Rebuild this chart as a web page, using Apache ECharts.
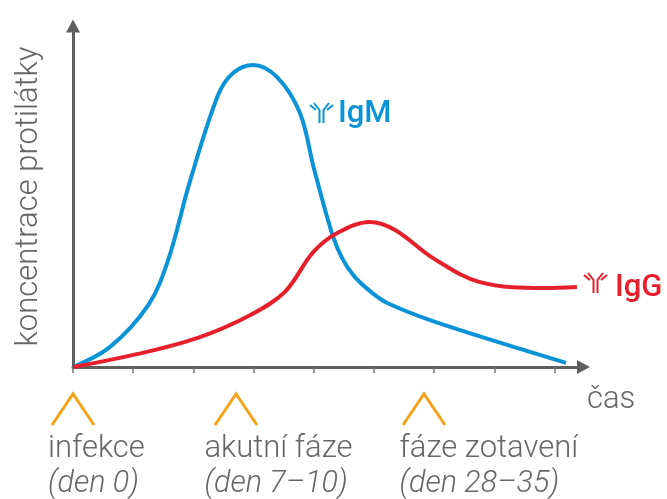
<!DOCTYPE html>
<html><head><meta charset="utf-8">
<style>html,body{margin:0;padding:0;background:#fff}#c{width:667px;height:499px}</style>
<script src="https://cdn.jsdelivr.net/npm/echarts@6/dist/echarts.min.js"></script></head>
<body><div id="c"></div>
<script>
// x in tick units x10 (one axis tick = 10), y in % of axis height
const igmTime = [0,6.1,12.5,15.8,19.4,24.1,26.6,29.9,33.9,37.7,40,43,44.7,46.8,49.7,52.2,59.3,74.3,81.9];
const igmConc = [0,5.7,17.8,30.7,53.2,78.2,84.5,86.8,83.3,73,57.2,38.5,31.3,25.9,21.3,18.4,13.5,5.2,1.2];
const iggTime = [0,10.6,20.6,29.4,35.2,39.9,43.9,49.3,53.5,59.8,67.6,78.4,83.7];
const iggConc = [0,3.7,8.3,14.9,21.6,33,38.5,41.7,39.4,31.3,24.4,22.7,23];
const xTicks = [0,10,20,30,40,50,60,70,80];
const yAxisTitle = 'koncentrace protilátky';
const xAxisTitle = 'čas';
const stages = ['infekce','akutní fáze','fáze zotavení'];
const stageDays = ['(den 0)','(den 7–10)','(den 28–35)'];

const BLUE='#0b93d8', RED='#e61f2d', GREY='#666666', AXIS='#5f5f5f', ORANGE='#f5a31a';
const FONT='Roboto';
const pairs=(a,b)=>a.map((v,i)=>[v,b[i]]);

function caret(tip){return {type:'polyline',shape:{points:[[tip-21,425],[tip,394],[tip+21,425]]},
  style:{stroke:ORANGE,lineWidth:3,fill:null}};}
function txt(x,y,t,c,extra){return {type:'text',x,y,style:Object.assign({text:t,fill:c,font:'300 31px '+FONT,textVerticalAlign:'middle'},extra||{})};}
function antibody(x,y,c){ // x,y = top-left of 25x21 icon
  const l=(pts)=>({type:'polyline',x,y,shape:{points:pts},style:{stroke:c,lineWidth:2,fill:null}});
  return [
    l([[10.5,21],[10.5,8],[5,1]]),
    l([[14.5,21],[14.5,8],[20,1]]),
    l([[1,3],[7,8]]),
    l([[24,3],[18,8]])
  ];
}
const ITALIC='italic 300 30.5px '+FONT;
const gfx=[
  caret(73),caret(236),caret(424),
  txt(48,449,stages[0],GREY),txt(204.5,449,stages[1],GREY),txt(399.5,449,stages[2],GREY),
  txt(48,484,stageDays[0],GREY,{font:ITALIC}),
  txt(204.5,484,stageDays[1],GREY,{font:ITALIC}),
  txt(399.5,484,stageDays[2],GREY,{font:ITALIC}),
  txt(587,400,xAxisTitle,GREY),
  txt(338,114,'IgM',BLUE,{font:'500 31px '+FONT}),
  txt(615,288,'IgG',RED,{font:'500 31px '+FONT}),
  ...antibody(309,102,BLUE),...antibody(583,272,RED)
];
const chart=echarts.init(document.getElementById('c'),null,{renderer:'canvas'});
chart.setOption({
  animation:false,
  grid:{left:73,top:26,width:510.5,height:341,containLabel:false,outerBoundsMode:'none'},
  xAxis:{type:'value',min:0,max:84.8,interval:10,
    axisLine:{show:true,lineStyle:{color:AXIS,width:3},symbol:['none','triangle'],symbolSize:[14,13],symbolOffset:[0,0]},
    axisTick:{show:true,length:6,inside:false,customValues:xTicks,lineStyle:{color:'#777',width:1.5}},
    axisLabel:{show:false},splitLine:{show:false}},
  yAxis:{type:'value',min:0,max:98,
    name:yAxisTitle,nameLocation:'middle',nameGap:28,nameRotate:90,nameTextStyle:{fontFamily:FONT,fontWeight:300,fontSize:31,color:GREY},
    axisLine:{show:true,lineStyle:{color:AXIS,width:3},symbol:['none','triangle'],symbolSize:[14,13],symbolOffset:[0,0]},
    axisTick:{show:false},axisLabel:{show:false},splitLine:{show:false}},
  series:[
    {type:'line',name:'IgM',data:pairs(igmTime,igmConc),smooth:0.35,showSymbol:false,clip:false,lineStyle:{color:BLUE,width:4}},
    {type:'line',name:'IgG',data:pairs(iggTime,iggConc),smooth:0.35,showSymbol:false,clip:false,lineStyle:{color:RED,width:4}}
  ],
  graphic:{elements:gfx}
});
</script></body></html>
